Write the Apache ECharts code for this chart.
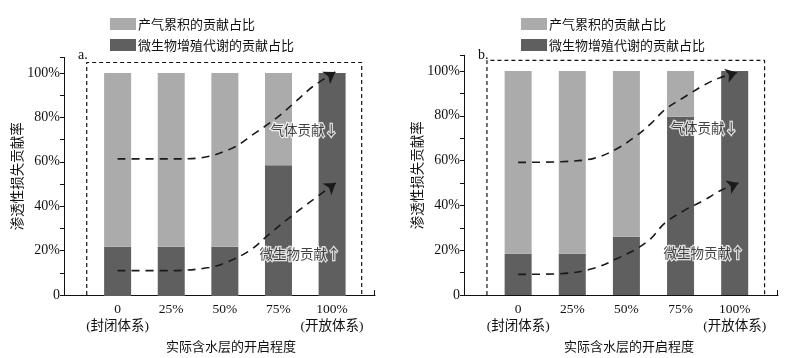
<!DOCTYPE html>
<html>
<head>
<meta charset="utf-8">
<script src="https://cdn.jsdelivr.net/npm/echarts@6/dist/echarts.min.js"></script>
<style>
  html, body {margin: 0; padding: 0; background: #fff;}
  #chart {width: 799px; height: 358px;}
</style>
</head>
<body>
<div id="chart"></div>
<script>
// x positions of the bars (aquifer openness, %)
const openness = [0, 25, 50, 75, 100];
const tickLabels = ["0", "25%", "50%", "75%", "100%"];
const subLabels = ["(封闭体系)", "", "", "", "(开放体系)"];
const seriesNames = ["产气累积的贡献占比", "微生物增殖代谢的贡献占比"];

// panel a
const gasA = [77.9, 77.9, 77.9, 41.4, 0];
const microbeA = [22.1, 22.1, 22.1, 58.6, 100];
// panel b
const gasB = [81.6, 81.6, 74, 20.4, 0];
const microbeB = [18.4, 18.4, 26, 79.6, 100];

// dashed trend curves [openness, %]
const gasTrendA = [[0, 61.3], [25, 61.3], [38, 61.7], [53.6, 66.2], [63, 72.2], [74, 79.7], [83, 87.1], [91, 93.9], [101.5, 100.4]];
const microbeTrendA = [[0, 11], [25, 11], [42.8, 12.4], [50.6, 14.7], [61.4, 19.9], [70.7, 27.4], [80, 34.8], [89.3, 41.6], [101.7, 50.5]];
const gasTrendB = [[0, 59.2], [19.5, 59.5], [35, 61], [46, 65.5], [55, 71.4], [61.4, 76.6], [67.6, 82.6], [77, 88.5], [86, 93.8], [92.4, 96.7], [101, 99.3]];
const microbeTrendB = [[0, 9.2], [19.5, 9.5], [35, 11.9], [46, 16.4], [55, 20.8], [61.4, 25.3], [67.6, 32], [77, 37.9], [86, 42.4], [94, 46.9], [101.7, 50]];

// dashed frame around the bars
const boxOutline = [[-14.4, 0], [-14.4, 104.7], [113.8, 104.7], [113.8, 0]];

const notes = ["气体贡献↓", "微生物贡献↑"];
const notePosA = [[87, 74.4], [85, 18.4]];
const notePosB = [[86, 74.4], [85.8, 18.6]];

const panelLetters = ["a.", "b."];

const X_MIN = -25, X_MAX = 120, Y_MAX = 107;

const FONT = "'Liberation Serif', 'Noto Sans CJK SC', serif";
const CJK = "'Noto Sans CJK SC', sans-serif";
const LIGHT = "#ababab";
const DARK = "#5f5f5f";

const chart = echarts.init(document.getElementById("chart"));

function xLabel(value) {
  const i = openness.indexOf(value);
  if (i < 0) {
    return "";
  }
  if (subLabels[i]) {
    return tickLabels[i] + "\n" + subLabels[i];
  }
  return tickLabels[i];
}

const panels = [
  {left: 64, width: 311, top: 57.4, bottom: 62, gas: gasA, microbe: microbeA,
    gasTrend: gasTrendA, microbeTrend: microbeTrendA, notePos: notePosA,
    legendLeft: 105, titleLeft: 73, namePad: 23},
  {left: 464, width: 314, top: 55.3, bottom: 63, gas: gasB, microbe: microbeB,
    gasTrend: gasTrendB, microbeTrend: microbeTrendB, notePos: notePosB,
    legendLeft: 516, titleLeft: 473, namePad: 16},
];

const grid = [], xAxis = [], yAxis = [], series = [], legend = [], title = [];

panels.forEach((p, k) => {
  const main = 2 * k, bars = 2 * k + 1;
  // the category grid for the stacked bars spans one band either side of 0..100
  const scale = p.width / (X_MAX - X_MIN);
  const step = openness[1] - openness[0];
  grid.push({left: p.left, width: p.width, top: p.top, bottom: p.bottom});
  grid.push({
    left: p.left + (openness[0] - step / 2 - X_MIN) * scale,
    width: step * openness.length * scale,
    top: p.top, bottom: p.bottom,
  });

  title.push({
    text: panelLetters[k], left: p.titleLeft, top: 43,
    textStyle: {fontFamily: FONT, fontSize: 14, fontWeight: "normal", color: "#111"},
  });
  legend.push({
    data: [seriesNames[0], seriesNames[1]],
    orient: "vertical", left: p.legendLeft, top: 12.5,
    icon: "rect", itemWidth: 26, itemHeight: 12, itemGap: 8,
    selectedMode: false,
    textStyle: {fontFamily: CJK, fontSize: 13, color: "#111", padding: [0, 0, 0, -3]},
  });

  xAxis.push({
    type: "value", gridIndex: main, min: X_MIN, max: X_MAX,
    name: "实际含水层的开启程度", nameLocation: "middle", nameGap: 40,
    nameTextStyle: {fontFamily: CJK, fontSize: 13, color: "#111", padding: [0, 0, 0, p.namePad]},
    axisLine: {show: true, onZero: false, lineStyle: {color: "#111", width: 1}},
    axisTick: {show: true, inside: true, length: 5, customValues: [X_MAX - 0.3], lineStyle: {color: "#111"}},
    axisLabel: {
      customValues: openness, margin: 6, lineHeight: 17,
      fontFamily: FONT, fontSize: 13.5, color: "#111",
      formatter: xLabel,
    },
    splitLine: {show: false},
  });
  xAxis.push({
    type: "category", gridIndex: bars, data: tickLabels, show: false,
  });

  const yBase = {
    type: "value", min: 0, max: Y_MAX, interval: 10,
    splitLine: {show: false},
  };
  yAxis.push(Object.assign({}, yBase, {
    gridIndex: main,
    name: "渗透性损失贡献率", nameLocation: "middle", nameRotate: 90, nameGap: 32,
    nameTextStyle: {fontFamily: CJK, fontSize: 13.5, color: "#111"},
    axisLine: {show: true, onZero: false, lineStyle: {color: "#111", width: 1}},
    axisTick: {show: true, length: 4, lineStyle: {color: "#111"}},
    axisLabel: {
      margin: 4, fontFamily: FONT, fontSize: 14, color: "#111",
      showMaxLabel: true,
      formatter: (v) => (v === 0 ? "0" : (v % 20 === 0 ? v + "%" : "")),
    },
  }));
  yAxis.push(Object.assign({}, yBase, {gridIndex: bars, show: false}));

  series.push({
    name: seriesNames[1], type: "bar", xAxisIndex: bars, yAxisIndex: bars, stack: "s" + k,
    barWidth: 27, itemStyle: {color: DARK}, data: p.microbe,
  });
  series.push({
    name: seriesNames[0], type: "bar", xAxisIndex: bars, yAxisIndex: bars, stack: "s" + k,
    barWidth: 27, itemStyle: {color: LIGHT}, data: p.gas,
  });
  series.push({
    type: "line", xAxisIndex: main, yAxisIndex: main, data: boxOutline, symbol: "none", z: 5,
    lineStyle: {color: "#111", width: 1.2, type: [4, 3]}, silent: true,
  });
  [p.gasTrend, p.microbeTrend].forEach((trend) => {
    series.push({
      type: "line", xAxisIndex: main, yAxisIndex: main, data: trend, symbol: "none",
      smooth: 0.35, z: 6, silent: true,
      lineStyle: {color: "#1a1a1a", width: 1.6, type: [8, 6]},
    });
    const n = trend.length;
    series.push({
      type: "lines", coordinateSystem: "cartesian2d", xAxisIndex: main, yAxisIndex: main, z: 7,
      symbol: ["none", "arrow"], symbolSize: [8, 11], silent: true,
      lineStyle: {color: "#1a1a1a", width: 0, opacity: 1},
      data: [{coords: [trend[n - 2], trend[n - 1]]}],
    });
  });
  series.push({
    type: "scatter", xAxisIndex: main, yAxisIndex: main, symbolSize: 0, z: 8, silent: true,
    data: p.notePos.map((pos, i) => ({value: pos, name: notes[i]})),
    label: {
      show: true, position: "inside", formatter: "{b}",
      fontFamily: CJK, fontSize: 13.5, color: "#111",
      textBorderColor: "#fff", textBorderWidth: 2.5,
    },
  });
});

chart.setOption({
  animation: false,
  title: title,
  legend: legend,
  grid: grid,
  xAxis: xAxis,
  yAxis: yAxis,
  series: series,
});
</script>
</body>
</html>
